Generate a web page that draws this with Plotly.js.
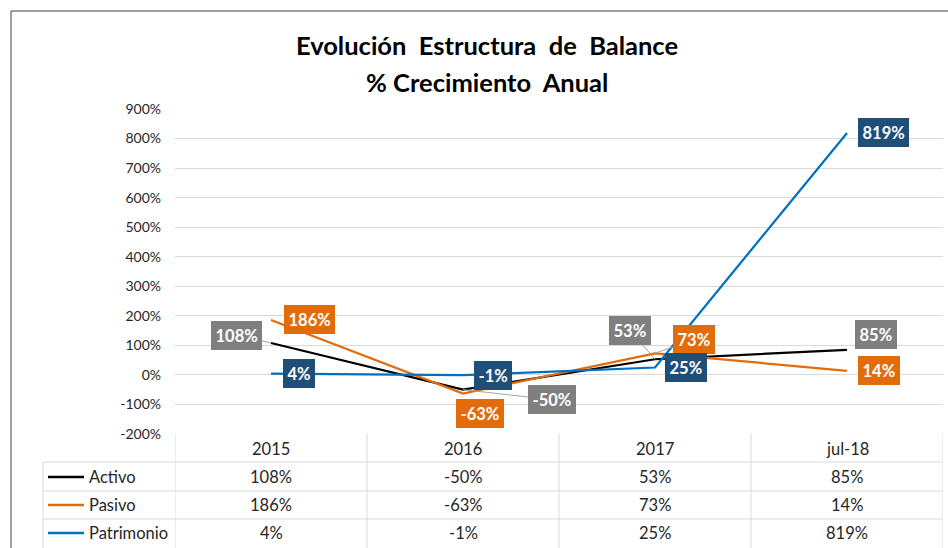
<!DOCTYPE html>
<html>
<head>
<meta charset="utf-8">
<script src="https://cdn.plot.ly/plotly-3.0.1.min.js"></script>
<style>html,body{margin:0;padding:0;background:#fff;}#chart{width:948px;height:548px;}</style>
</head>
<body>
<div id="chart"></div>
<script>
// ---- data ----
const categories = ['2015', '2016', '2017', 'jul-18'];
const seriesNames = ['Activo', 'Pasivo', 'Patrimonio'];
const activo = [108, -50, 53, 85];
const pasivo = [186, -63, 73, 14];
const patrimonio = [4, -1, 25, 819];
const yTickVals = [-200, -100, 0, 100, 200, 300, 400, 500, 600, 700, 800, 900];
const yTickText = yTickVals.map(v => v + '%');
const titleLine1 = 'Evolución  Estructura  de  Balance';
const titleLine2 = '% Crecimiento  Anual';

// ---- styling / layout helpers ----
const W = 948, H = 548;
const M = {l: 175, r: 5, t: 109, b: 114};
const PW = W - M.l - M.r, PH = H - M.t - M.b;
const px = x => (x - M.l) / PW;
const py = y => (H - M.b - y) / PH;
const FONT = "Lato, 'Open Sans', sans-serif";
const lineColors = ['#000000', '#E36C0A', '#0070C0'];
const boxColors = ['#7F7F7F', '#E36C0A', '#1F4E79'];
const values = [activo, pasivo, patrimonio];
const TITLE_CX = 487;
// label offsets in pixels (dx, dy screen) and whether a leader line is drawn
const labelOffsets = [
  [[-35, -8, true], [89, 10, true], [-25, -29, true], [29, -15, false]],
  [[38, 0, false], [17, 20, false], [39, -14, true], [32, 0, false]],
  [[28, 0, false], [30, 0, false], [31, 0, false], [36, 0, false]]
];

const traces = values.map((v, s) => ({
  type: 'scatter', mode: 'lines', name: seriesNames[s],
  x: categories, y: v,
  line: {color: lineColors[s], width: 2.25},
  hoverinfo: 'skip'
}));

const annotations = [];
const shapes = [];

// data labels
values.forEach((v, s) => {
  v.forEach((val, i) => {
    const [dx, dy, leader] = labelOffsets[s][i];
    const a = {
      xref: 'x', yref: 'y', x: i, y: val,
      text: '<b>' + val + '%</b>',
      font: {family: FONT, size: 16.5, color: '#ffffff'},
      bgcolor: boxColors[s], borderpad: 4.5, borderwidth: 0
    };
    if (leader) {
      Object.assign(a, {showarrow: true, ax: dx, ay: dy, arrowhead: 0,
        arrowwidth: 1, arrowcolor: '#A6A6A6', standoff: 0, startstandoff: 0});
    } else {
      Object.assign(a, {showarrow: false, xshift: dx, yshift: -dy});
    }
    annotations.push(a);
  });
});

// second title line
annotations.push({xref: 'paper', yref: 'paper', x: px(TITLE_CX), y: py(82), xanchor: 'center', yanchor: 'middle',
  text: '<b>' + titleLine2 + '</b>', showarrow: false,
  font: {family: FONT, size: 25.5, color: '#000000'}});

// data table
const gridCol = '#D9D9D9';
const tableFont = {family: FONT, size: 16.5, color: '#262626'};
const rowCenters = [477, 505, 533];
const rowLines = [462, 491, 519];
categories.forEach((c, i) => {
  annotations.push({xref: 'x', yref: 'paper', x: i, y: py(449), yanchor: 'middle', text: c,
    showarrow: false, font: tableFont});
});
values.forEach((v, s) => {
  v.forEach((val, i) => {
    annotations.push({xref: 'x', yref: 'paper', x: i, y: py(rowCenters[s]), yanchor: 'middle',
      text: val + '%', showarrow: false, font: tableFont});
  });
  annotations.push({xref: 'paper', yref: 'paper', x: px(87), y: py(rowCenters[s]), xanchor: 'left',
    yanchor: 'middle', text: seriesNames[s], showarrow: false, font: tableFont});
  shapes.push({type: 'line', xref: 'paper', yref: 'paper', x0: px(48), x1: px(84),
    y0: py(rowCenters[s]), y1: py(rowCenters[s]), line: {color: lineColors[s], width: 2.5}});
});
rowLines.forEach(y => {
  shapes.push({type: 'line', xref: 'paper', yref: 'paper', x0: px(43), x1: px(943),
    y0: py(y), y1: py(y), line: {color: gridCol, width: 1}});
});
for (let k = 0; k <= categories.length; k++) {
  shapes.push({type: 'line', xref: 'x', yref: 'paper', x0: k - 0.5, x1: k - 0.5,
    y0: py(434), y1: py(548), line: {color: gridCol, width: 1}});
}
shapes.push({type: 'line', xref: 'paper', yref: 'paper', x0: px(43), x1: px(43),
  y0: py(462), y1: py(548), line: {color: gridCol, width: 1}});
// outer chart frame
shapes.push({type: 'line', xref: 'paper', yref: 'paper', x0: px(11), x1: px(11),
  y0: py(11), y1: py(549), line: {color: '#404040', width: 1}});
shapes.push({type: 'line', xref: 'paper', yref: 'paper', x0: px(11), x1: px(949),
  y0: py(11), y1: py(11), line: {color: '#404040', width: 1}});

const layout = {
  width: W, height: H,
  margin: M,
  paper_bgcolor: '#ffffff', plot_bgcolor: '#ffffff',
  showlegend: false,
  title: {
    text: '<b>' + titleLine1 + '</b>',
    font: {family: FONT, size: 25.5, color: '#000000'},
    x: TITLE_CX / W, xref: 'container', xanchor: 'center',
    y: 1 - 46 / H, yref: 'container', yanchor: 'middle'
  },
  xaxis: {type: 'category', range: [-0.5, 3.5], showgrid: false, zeroline: false,
    showticklabels: false, showline: false, ticks: '', fixedrange: true},
  yaxis: {range: [-200, 900], tickvals: yTickVals, ticktext: yTickText,
    showgrid: true, gridcolor: gridCol, gridwidth: 1, zeroline: false,
    showline: false, ticks: '', ticklabelstandoff: 13,
    tickfont: {family: FONT, size: 14, color: '#262626'}, fixedrange: true},
  annotations: annotations,
  shapes: shapes
};

Plotly.newPlot('chart', traces, layout, {displayModeBar: false, staticPlot: true});
</script>
</body>
</html>
